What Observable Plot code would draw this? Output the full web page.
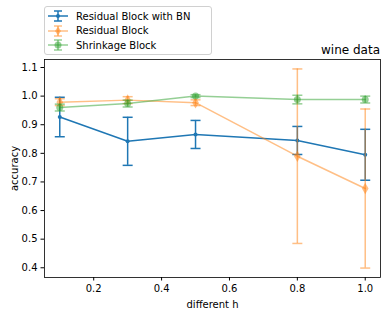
<!DOCTYPE html>
<html><head><meta charset="utf-8">
<script src="https://cdn.jsdelivr.net/npm/d3@7"></script>
<script src="https://cdn.jsdelivr.net/npm/@observablehq/plot@0.6"></script>
<style>
body{margin:0;background:#fff;font-family:"DejaVu Sans",sans-serif}
#wrap{position:relative;width:389px;height:315px}
#legend{position:absolute;left:44px;top:6px;width:168px;height:49px;border:1px solid #d0d0d0;border-radius:3px;background:rgba(255,255,255,0.8);box-sizing:border-box;font-size:10px;color:#000;padding-top:2px}
.row{display:flex;align-items:center;height:14.5px}
.row svg{margin-left:3px;margin-right:8px}
#title{position:absolute;right:9px;top:43px;font-size:12px;line-height:14px;color:#000}
</style></head>
<body><div id="wrap"><div id="chart"></div><div id="legend"></div><div id="title">wine data</div></div>
<script>
const hValues = [0.1, 0.3, 0.5, 0.8, 1.0];
const seriesNames = ["Residual Block with BN", "Residual Block", "Shrinkage Block"];
const bnMean  = [0.927, 0.842, 0.866, 0.845, 0.795];
const bnErr   = [0.069, 0.084, 0.049, 0.049, 0.089];
const resMean = [0.979, 0.986, 0.977, 0.790, 0.677];
const resErr  = [0.012, 0.012, 0.010, 0.305, 0.278];
const shrMean = [0.960, 0.974, 1.000, 0.988, 0.988];
const shrErr  = [0.012, 0.012, 0.005, 0.015, 0.012];
const xTicks = [0.2, 0.4, 0.6, 0.8, 1.0];
const yTicks = [0.4, 0.5, 0.6, 0.7, 0.8, 0.9, 1.0, 1.1];

const colors = ["#1f77b4", "#ff7f0e", "#2ca02c"];
const alphas = [1, 0.5, 0.5];
const symbols = ["circle", "diamond", "circle"];
const radii = [2, 3.5, 3.5];
const means = [bnMean, resMean, shrMean];
const errs = [bnErr, resErr, shrErr];

const capSymbol = {draw(ctx) { ctx.moveTo(-5, 0); ctx.lineTo(5, 0); }};

const marks = [];
seriesNames.forEach((name, s) => {
  const rows = hValues.map((h, i) => ({h, m: means[s][i], lo: means[s][i] - errs[s][i], hi: means[s][i] + errs[s][i]}));
  const o = {stroke: colors[s], strokeOpacity: alphas[s], strokeWidth: 1.5};
  marks.push(Plot.line(rows, {x: "h", y: "m", ...o}));
  marks.push(Plot.ruleX(rows, {x: "h", y1: "lo", y2: "hi", ...o}));
  marks.push(Plot.dot(rows, {x: "h", y: "lo", symbol: capSymbol, fill: "none", ...o}));
  marks.push(Plot.dot(rows, {x: "h", y: "hi", symbol: capSymbol, fill: "none", ...o}));
  marks.push(Plot.dot(rows, {x: "h", y: "m", symbol: symbols[s], r: radii[s], fill: colors[s], fillOpacity: alphas[s], stroke: "none"}));
});

const chart = Plot.plot({
  width: 389, height: 315,
  marginLeft: 44, marginRight: 9, marginTop: 59, marginBottom: 38,
  style: {fontFamily: "DejaVu Sans, sans-serif", fontSize: "10px", color: "#000", background: "#fff"},
  x: {domain: [0.055, 1.045]},
  y: {domain: [0.366, 1.128]},
  marks: [
    ...marks,
    Plot.frame({stroke: "#000", strokeWidth: 0.8}),
    Plot.axisX({ticks: xTicks, tickFormat: d3.format(".1f"), tickSize: 3.5, tickPadding: 3.5, label: "different h", labelAnchor: "center", labelArrow: false, labelOffset: 30, fontSize: 10}),
    Plot.axisY({ticks: yTicks, tickFormat: d3.format(".1f"), tickSize: 3.5, tickPadding: 3.5, label: "accuracy", labelAnchor: "center", labelArrow: false, labelOffset: 34, fontSize: 10})
  ]
});
document.getElementById("chart").appendChild(chart);

const legend = document.getElementById("legend");
seriesNames.forEach((name, s) => {
  const row = document.createElement("div");
  row.className = "row";
  const op = alphas[s];
  let marker;
  if (symbols[s] === "diamond") marker = `<path d="M10,2.5 L13,7 L10,11.5 L7,7 Z" fill="${colors[s]}" fill-opacity="${op}"/>`;
  else marker = `<circle cx="10" cy="7" r="${radii[s]}" fill="${colors[s]}" fill-opacity="${op}"/>`;
  row.innerHTML = `<svg width="20" height="14"><g stroke="${colors[s]}" stroke-opacity="${op}" stroke-width="1.5">
    <line x1="0" y1="7" x2="20" y2="7"/><line x1="10" y1="2" x2="10" y2="12"/>
    <line x1="6" y1="2" x2="14" y2="2"/><line x1="6" y1="12" x2="14" y2="12"/></g>${marker}</svg><span>${name}</span>`;
  legend.appendChild(row);
});
</script></body></html>
